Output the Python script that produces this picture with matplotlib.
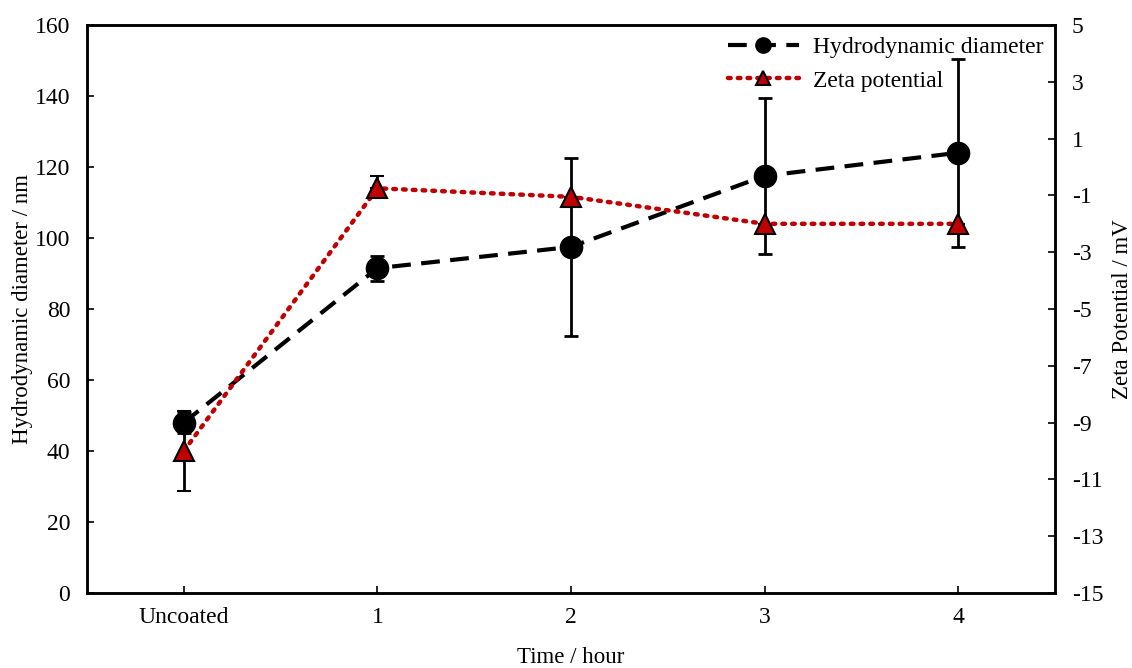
import numpy as np
import matplotlib.pyplot as plt
from matplotlib.lines import Line2D

plt.rcParams['font.family'] = ['Liberation Serif', 'DejaVu Serif']
plt.rcParams['font.size'] = 17
plt.rcParams['axes.unicode_minus'] = False

# data
labels = ['Uncoated', '1', '2', '3', '4']
hydro = [48, 91.5, 97.5, 117.5, 124]
hydro_err = [3, 3.5, 25, 22, 26.5]
zeta = [-10.0, -0.75, -1.05, -2.0, -2.0]
zeta_lo = [1.4, 0.0, 0.0, 0.0, 0.0]
zeta_hi = [1.4, 0.45, 0.0, 0.0, 0.0]

x = np.arange(len(labels))
red = '#C00000'
dash = (0, (4.5, 2.5))
dot = (0, (0.6, 1.6))

fig = plt.figure(figsize=(11.32, 6.68), dpi=100)
ax = fig.add_axes([87/1132, 1-593/668, (1055-87)/1132, (593-25)/668])
ax2 = ax.twinx()

ax.errorbar(x, hydro, yerr=hydro_err, color='black', linestyle=dash, linewidth=3,
            marker='o', markersize=16, ecolor='black', elinewidth=2, capsize=5, capthick=2)
ax2.errorbar(x, zeta, yerr=[zeta_lo, zeta_hi], color=red, linestyle=dot, linewidth=3.2,
             dash_capstyle='round', marker='^', markersize=14, markerfacecolor=red,
             markeredgecolor='black', markeredgewidth=1.5, ecolor='black', elinewidth=2,
             capsize=5, capthick=2)

ax.set_xlim(-0.5, 4.5)
ax.set_ylim(0, 160)
ax.set_yticks(np.arange(0, 161, 20))
ax2.set_ylim(-15, 5)
ax2.set_yticks(np.arange(-15, 6, 2))
ax.set_xticks(x)
ax.set_xticklabels(labels)

ax.tick_params(direction='in', length=5, width=1.2, pad=12)
ax.tick_params(axis='x', pad=10)
ax2.tick_params(direction='in', length=5, width=1.2, pad=12)
for a in (ax, ax2):
    for s in a.spines.values():
        s.set_linewidth(1.8)

ax.set_ylabel('Hydrodynamic diameter / nm', fontsize=16.5, labelpad=1)
ax2.set_ylabel('Zeta Potential / mV', fontsize=16.5, rotation=90, labelpad=6)
ax.set_xlabel('Time / hour', fontsize=16.5, labelpad=14)

handles = [
    Line2D([], [], color='black', linestyle=dash, linewidth=3, marker='o', markersize=11),
    Line2D([], [], color=red, linestyle=dot, linewidth=3.2, dash_capstyle='round', marker='^',
           markersize=10, markerfacecolor=red, markeredgecolor='black', markeredgewidth=1.5),
]
ax2.legend(handles, ['Hydrodynamic diameter', 'Zeta potential'], loc='upper right',
           frameon=False, handlelength=3, borderaxespad=0.1, labelspacing=0.5,
           handletextpad=0.6, fontsize=17)

plt.savefig('out.png', dpi=100)
